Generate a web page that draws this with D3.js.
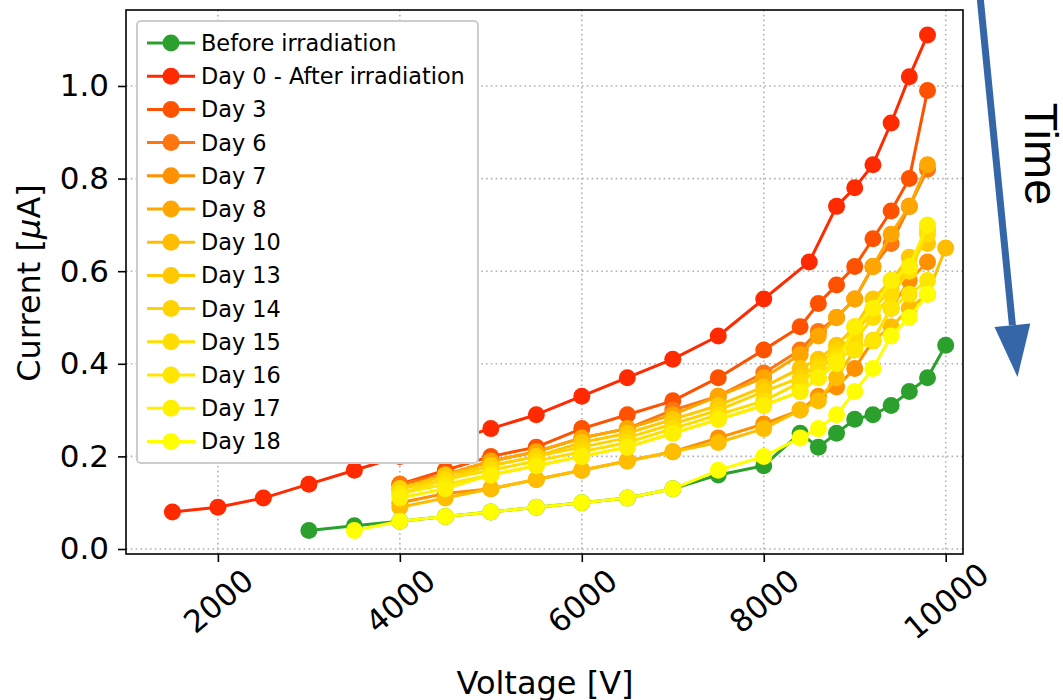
<!DOCTYPE html>
<html>
<head>
<meta charset="utf-8">
<script src="https://cdn.jsdelivr.net/npm/d3@7"></script>
<style>
  body { margin: 0; background: #fff; }
  svg { display: block; font-family: "DejaVu Sans", sans-serif; }
</style>
</head>
<body>
<svg id="graph" width="1063" height="700"></svg>
<script>
// tensions (V)
const voltsBefore = [3000, 3500, 4000, 4500, 5000, 5500, 6000, 6500, 7000, 7500, 8000, 8400, 8600, 8800, 9000, 9200, 9400, 9600, 9800, 10000];
const voltsDay0 = [1500, 2000, 2500, 3000, 3500, 4000, 4500, 5000, 5500, 6000, 6500, 7000, 7500, 8000, 8500, 8800, 9000, 9200, 9400, 9600, 9800];
const voltsScan = [4000, 4500, 5000, 5500, 6000, 6500, 7000, 7500, 8000, 8400, 8600, 8800, 9000, 9200, 9400, 9600, 9800];
const voltsDay10 = voltsScan.concat([10000]);
const voltsDay18 = [3500].concat(voltsScan);

// courants (µA)
const curBefore = [0.04, 0.05, 0.06, 0.07, 0.08, 0.09, 0.10, 0.11, 0.13, 0.16, 0.18, 0.25, 0.22, 0.25, 0.28, 0.29, 0.31, 0.34, 0.37, 0.44];
const curDay0  = [0.08, 0.09, 0.11, 0.14, 0.17, 0.20, 0.23, 0.26, 0.29, 0.33, 0.37, 0.41, 0.46, 0.54, 0.62, 0.74, 0.78, 0.83, 0.92, 1.02, 1.11];
const curDay3  = [0.14, 0.17, 0.20, 0.22, 0.26, 0.29, 0.32, 0.37, 0.43, 0.48, 0.53, 0.57, 0.61, 0.67, 0.73, 0.80, 0.99];
const curDay6  = [0.14, 0.16, 0.19, 0.21, 0.24, 0.26, 0.30, 0.33, 0.38, 0.43, 0.47, 0.50, 0.54, 0.61, 0.66, 0.74, 0.82];
const curDay7  = [0.10, 0.12, 0.13, 0.15, 0.17, 0.19, 0.21, 0.24, 0.27, 0.30, 0.33, 0.35, 0.39, 0.45, 0.52, 0.58, 0.62];
const curDay8  = [0.13, 0.16, 0.19, 0.21, 0.24, 0.26, 0.29, 0.33, 0.37, 0.42, 0.46, 0.50, 0.54, 0.61, 0.68, 0.74, 0.83];
const curDay10 = [0.09, 0.11, 0.13, 0.15, 0.17, 0.19, 0.21, 0.23, 0.26, 0.30, 0.32, 0.37, 0.43, 0.45, 0.48, 0.52, 0.55, 0.65];
const curDay13 = [0.13, 0.16, 0.18, 0.20, 0.23, 0.25, 0.28, 0.31, 0.35, 0.39, 0.41, 0.44, 0.48, 0.54, 0.58, 0.63, 0.66];
const curDay14 = [0.13, 0.15, 0.18, 0.20, 0.22, 0.24, 0.27, 0.30, 0.34, 0.37, 0.40, 0.43, 0.46, 0.52, 0.56, 0.61, 0.69];
const curDay15 = [0.12, 0.15, 0.17, 0.19, 0.21, 0.23, 0.26, 0.29, 0.32, 0.36, 0.39, 0.42, 0.45, 0.50, 0.55, 0.60, 0.68];
const curDay16 = [0.12, 0.14, 0.16, 0.18, 0.20, 0.22, 0.25, 0.28, 0.31, 0.34, 0.37, 0.41, 0.43, 0.45, 0.52, 0.55, 0.58];
const curDay17 = [0.11, 0.13, 0.16, 0.18, 0.20, 0.22, 0.25, 0.28, 0.31, 0.34, 0.37, 0.40, 0.48, 0.52, 0.58, 0.61, 0.70];
const curDay18 = [0.04, 0.06, 0.07, 0.08, 0.09, 0.10, 0.11, 0.13, 0.17, 0.20, 0.24, 0.26, 0.29, 0.34, 0.39, 0.46, 0.50, 0.55];

const labels = ["Before irradiation", "Day 0 - After irradiation", "Day 3", "Day 6", "Day 7", "Day 8",
                "Day 10", "Day 13", "Day 14", "Day 15", "Day 16", "Day 17", "Day 18"];
const colors = ["#2ca02c", "#ff2a00", "#ff5200", "#ff7510", "#ff9100", "#ffa600",
                "#ffbd00", "#ffc800", "#ffd300", "#ffdd00", "#ffe600", "#fff000", "#ffff00"];

const xTicks = [2000, 4000, 6000, 8000, 10000];
const yTicks = [0.0, 0.2, 0.4, 0.6, 0.8, 1.0];

const voltSets = [voltsBefore, voltsDay0, voltsScan, voltsScan, voltsScan, voltsScan,
                  voltsDay10, voltsScan, voltsScan, voltsScan, voltsScan, voltsScan, voltsDay18];
const curSets = [curBefore, curDay0, curDay3, curDay6, curDay7, curDay8,
                 curDay10, curDay13, curDay14, curDay15, curDay16, curDay17, curDay18];

const series = labels.map((nom, i) => ({
  nom: nom,
  couleur: colors[i],
  points: voltSets[i].map((v, j) => ({ v: v, c: curSets[i][j] }))
}));

const svg = d3.select("#graph");
const gauche = 126, droite = 963, haut = 10, bas = 554;

const x = d3.scaleLinear().domain([990, 10190]).range([gauche, droite]);
const y = d3.scaleLinear().domain([-0.0108, 1.1641]).range([bas, haut]);

// grille pointillée
const grille = svg.append("g");
grille.selectAll(".gx").data(xTicks).join("line")
  .attr("x1", d => x(d)).attr("x2", d => x(d))
  .attr("y1", haut).attr("y2", bas)
  .attr("stroke", "#b0b0b0").attr("stroke-width", 1.6).attr("stroke-dasharray", "1.6,3.2");
grille.selectAll(".gy").data(yTicks).join("line")
  .attr("x1", gauche).attr("x2", droite)
  .attr("y1", d => y(d)).attr("y2", d => y(d))
  .attr("stroke", "#b0b0b0").attr("stroke-width", 1.6).attr("stroke-dasharray", "1.6,3.2");

// courbes (lignes puis marqueurs, série par série)
const ligne = d3.line().x(d => x(d.v)).y(d => y(d.c));
const courbes = svg.append("g");
series.forEach(s => {
  const g = courbes.append("g");
  g.append("path").datum(s.points)
    .attr("d", ligne).attr("fill", "none")
    .attr("stroke", s.couleur).attr("stroke-width", 3).attr("stroke-linejoin", "round");
  g.selectAll("circle").data(s.points).join("circle")
    .attr("cx", d => x(d.v)).attr("cy", d => y(d.c))
    .attr("r", 8.5).attr("fill", s.couleur);
});

// axes
const axeX = svg.append("g").attr("transform", `translate(0,${bas})`)
  .call(d3.axisBottom(x).tickValues(xTicks).tickSize(8).tickFormat(d3.format("d")))
  .attr("font-family", "DejaVu Sans");
axeX.selectAll("text")
  .attr("font-size", 31).attr("fill", "#000")
  .attr("text-anchor", "middle").attr("dy", null).attr("y", null)
  .attr("dominant-baseline", "central")
  .attr("transform", "translate(0,47) rotate(-40)");

const axeY = svg.append("g").attr("transform", `translate(${gauche},0)`)
  .call(d3.axisLeft(y).tickValues(yTicks).tickSize(8).tickFormat(d3.format(".1f")))
  .attr("font-family", "DejaVu Sans");
axeY.selectAll("text").attr("font-size", 31).attr("fill", "#000").attr("x", -17);

svg.selectAll(".domain").remove();
svg.selectAll(".tick line").attr("stroke", "#000").attr("stroke-width", 1.6);

svg.append("rect")
  .attr("x", gauche).attr("y", haut)
  .attr("width", droite - gauche).attr("height", bas - haut)
  .attr("fill", "none").attr("stroke", "#000").attr("stroke-width", 1.6);

// titres des axes
svg.append("text")
  .attr("x", 545).attr("y", 683)
  .attr("text-anchor", "middle").attr("dominant-baseline", "central")
  .attr("font-size", 32).text("Voltage [V]");

const titreY = svg.append("text")
  .attr("transform", "translate(29,283) rotate(-90)")
  .attr("text-anchor", "middle").attr("dominant-baseline", "central")
  .attr("font-size", 32);
titreY.append("tspan").text("Current [");
titreY.append("tspan").attr("font-style", "italic").text("μ");
titreY.append("tspan").text("A]");

// légende
const leg = svg.append("g");
leg.append("rect")
  .attr("x", 137).attr("y", 21).attr("width", 341).attr("height", 442)
  .attr("rx", 4).attr("fill", "#fff").attr("stroke", "#cccccc").attr("stroke-width", 2);
const pas = 33.2;
const entree = leg.selectAll(".entree").data(series).join("g")
  .attr("transform", (d, i) => `translate(0,${43 + pas * i})`);
entree.append("line")
  .attr("x1", 147).attr("x2", 195)
  .attr("stroke", d => d.couleur).attr("stroke-width", 3);
entree.append("circle")
  .attr("cx", 171).attr("r", 8.5).attr("fill", d => d.couleur);
entree.append("text")
  .attr("x", 201).attr("dominant-baseline", "central")
  .attr("font-size", 22.4).text(d => d.nom);

// flèche "Time"
const depart = [980, -4], pointe = [1017.5, 377];
const dx = pointe[0] - depart[0], dy = pointe[1] - depart[1];
const long = Math.hypot(dx, dy), ux = dx / long, uy = dy / long;
const base = [pointe[0] - ux * 52, pointe[1] - uy * 52];
svg.append("line")
  .attr("x1", depart[0]).attr("y1", depart[1])
  .attr("x2", base[0]).attr("y2", base[1])
  .attr("stroke", "#3566a8").attr("stroke-width", 7);
svg.append("polygon")
  .attr("points", [
    pointe,
    [base[0] - uy * 18, base[1] + ux * 18],
    [base[0] + uy * 18, base[1] - ux * 18]
  ].map(p => p.join(",")).join(" "))
  .attr("fill", "#3566a8");

svg.append("text")
  .attr("transform", "translate(1025,154) rotate(90)")
  .attr("text-anchor", "middle")
  .attr("font-family", "Liberation Sans, Arial, sans-serif")
  .attr("font-size", 47).text("Time");
</script>
</body>
</html>
